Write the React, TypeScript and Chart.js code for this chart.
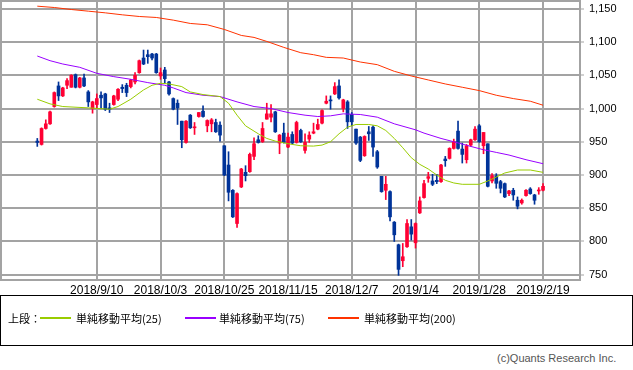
import React, { useEffect, useRef } from "react";
import { Chart, registerables } from "chart.js";

Chart.register(...registerables);

// ---- Candles (index 0 = 2018/8/21 ... index 119 = 2019/2/19) ----
const openV = [
  951, 946, 970, 977, 1003, 1034, 1019, 1035, 1032, 1051, 1032, 1046, 1025, 1000, 1006, 1020, 1022, 1001, 1006, 1014,
  1032, 1035, 1033, 1040, 1054, 1076, 1081, 1082, 1082, 1049, 1058, 1040, 1015, 1008, 981, 949, 990, 971, 988, 996,
  974, 977, 979, 975, 944, 915, 877, 827, 882, 904, 905, 928, 953, 950, 984, 987, 995, 948, 963, 942,
  961, 949, 967, 937, 954, 963, 969, 978, 1008, 1013, 1022, 1034, 1000, 1010, 991, 969, 957, 929, 965, 972,
  935, 898, 877, 875, 829, 795, 771, 792, 822, 798, 843, 866, 895, 891, 892, 890, 924, 925, 940, 966,
  939, 923, 945, 953, 974, 944, 947, 891, 898.5, 890, 887, 872, 877, 862, 858, 869, 879, 870, 876, 877,
];
const highV = [
  955, 971, 983, 996, 1025, 1040, 1032, 1045, 1051, 1052, 1047, 1052, 1027, 1011, 1022, 1025, 1023, 1008, 1020, 1030,
  1036, 1038, 1044, 1054, 1073, 1088, 1088, 1083, 1083, 1061, 1062, 1041, 1016, 1013, 981, 982, 991, 979, 994, 1004,
  983, 985, 984, 980, 944, 935, 878, 873, 910, 914, 933, 956, 959, 979, 1008, 1006, 996, 961, 978, 963,
  965, 981, 969, 962, 965, 978, 984, 998, 1019, 1019, 1039, 1043, 1014, 1012, 994, 969, 958, 959, 973, 974,
  937, 898, 898, 876, 830, 796, 797, 833, 833, 828, 867, 892, 904, 901, 901, 916, 928, 941, 954, 981,
  948, 946, 954, 973, 976, 964, 947, 902, 902, 892, 888, 877, 880, 867, 864, 878, 881, 871, 881, 887,
];
const lowV = [
  943, 945, 969, 976, 1002, 1012, 1018, 1030, 1032, 1031, 1031, 1033, 1003, 993, 1000, 1000, 997, 994, 1005, 1012,
  1024, 1018, 1031, 1037, 1053, 1066, 1068, 1073, 1053, 1044, 1038, 1020, 998, 976, 941, 948, 970, 961, 987, 987,
  965, 965, 964, 951, 899, 861, 836, 821, 881, 891, 904, 923, 948, 949, 984, 980, 964, 932, 948, 941,
  947, 948, 949, 933, 949, 962, 968, 977, 1007, 999, 1021, 1014, 995, 970, 974, 946, 920, 928, 952, 928,
  910, 874, 863, 831, 800, 749, 762, 791, 802, 790, 842, 865, 889, 884, 887, 889, 913, 924, 939, 939,
  918, 918, 943, 952, 949, 932, 882, 888, 880, 873, 866, 869, 862, 849, 856, 868, 871, 856, 871, 876,
];
const closeV = [
  949, 970, 977, 995, 1024, 1019, 1031, 1042, 1050, 1032, 1046, 1034, 1010, 1010, 1015, 1016, 999, 999, 1019, 1029,
  1030, 1024, 1043, 1050, 1072, 1067, 1078, 1076, 1054, 1054, 1045, 1022, 999, 1001, 953, 981, 971, 972.5, 994, 988,
  982, 983, 965, 960, 900, 874, 837, 872, 909, 899, 931, 947, 949, 970, 992, 992, 965, 960, 949, 957,
  948, 979, 950, 949, 960, 965, 976, 997, 1011, 1011.5, 1033, 1016, 1013, 980, 980, 948, 922, 958, 962, 942,
  912, 875, 886, 837, 810, 758, 777, 827, 811, 827, 861, 887, 897.5, 886, 890, 915, 921.5, 940, 950, 940,
  931, 944, 953, 969, 950, 964, 883, 899, 887.5, 880, 867, 876, 870, 853, 862, 877, 872, 862, 877.5, 883,
];

// ---- Moving averages (sampled at candle indices) ----
const ma25Idx = [0, 3, 6, 12, 17, 19, 22, 25, 27, 29, 31, 34, 36, 39, 43, 45, 47, 49, 52, 54, 56, 59, 62, 65, 67, 69, 71, 73, 75, 78, 80, 82, 84, 86, 88, 90, 92, 94, 96, 98, 100, 104, 106, 108, 110, 113, 116, 119];
const ma25Val = [1014, 1007, 1003, 1001, 999, 1003, 1014, 1028, 1035, 1038, 1037, 1033, 1025, 1021, 1018, 1008, 990, 974, 962, 955, 951, 947, 944, 943.5, 945, 950, 962, 972, 976, 976, 974, 967, 955, 941, 926, 916, 909, 900, 892, 888, 886, 886, 891, 897, 903, 907.5, 907.5, 904];

const ma75Idx = [0, 3, 6, 10, 14, 18, 22, 26, 30, 32, 35, 39, 43, 47, 51, 55, 59, 63, 66, 69, 72, 76, 80, 84, 89, 91, 95, 98, 102, 105, 108, 111, 115, 119];
const ma75Val = [1079, 1072, 1067, 1062, 1053, 1048, 1044, 1039, 1035, 1031, 1024, 1020, 1018, 1010, 1003, 1000, 994, 990, 988, 989, 992, 991, 987, 977, 968, 963, 955, 950, 943, 938, 934, 930, 923, 917];

const ma200Idx = [0, 4, 8, 12, 16, 20, 24, 28, 32, 36, 40, 44, 48, 51, 54, 58, 62, 65, 68, 72, 76, 80, 84, 88, 92, 96, 100, 104, 108, 112, 116, 119];
const ma200Val = [1154, 1152, 1149, 1146.5, 1144, 1141, 1138.5, 1137, 1133, 1128, 1126, 1119, 1110, 1107, 1101, 1092, 1084, 1081, 1077, 1076, 1070, 1066, 1056, 1049, 1043, 1037, 1032, 1027, 1020, 1015, 1011, 1005];

// ---- Axis ticks ----
const xTickIndex = [14, 29, 44, 59, 74, 89, 104, 119];
const xTickLabels = ["2018/9/10", "2018/10/3", "2018/10/25", "2018/11/15", "2018/12/7", "2019/1/4", "2019/1/28", "2019/2/19"];
const yTicks = [750, 800, 850, 900, 950, 1000, 1050, 1100, 1150];

const UP = "#ff0033";
const DOWN = "#003399";
const GRID = "#a3a3a3";
const C25 = "#99cc00";
const C75 = "#9900ff";
const C200 = "#ff3300";

const framePlugin = {
  id: "frame",
  beforeDatasetsDraw(chart: any) {
    const { ctx, chartArea: a } = chart;
    ctx.save();
    ctx.strokeStyle = GRID;
    ctx.lineWidth = 2;
    ctx.strokeRect(a.left, a.top, a.right - a.left, a.bottom - a.top);
    ctx.restore();
  },
};

function CandleChart() {
  const ref = useRef<HTMLCanvasElement | null>(null);
  useEffect(() => {
    if (!ref.current) return;
    const colors = openV.map((o, i) => (closeV[i] >= o ? UP : DOWN));
    const line = (idx: number[], val: number[], color: string, label: string) => ({
      type: "line" as const,
      label,
      data: idx.map((x, k) => ({ x, y: val[k] })),
      borderColor: color,
      borderWidth: 1,
      pointRadius: 0,
      tension: 0,
      fill: false,
      order: 0,
    });
    const chart = new Chart(ref.current, {
      type: "bar",
      data: {
        datasets: [
          line(ma25Idx, ma25Val, C25, "単純移動平均(25)"),
          line(ma75Idx, ma75Val, C75, "単純移動平均(75)"),
          line(ma200Idx, ma200Val, C200, "単純移動平均(200)"),
          {
            type: "bar",
            label: "body",
            data: openV.map((o, i) => ({ x: i, y: [o, closeV[i]] })),
            backgroundColor: colors,
            borderWidth: 0,
            barThickness: 3,
            minBarLength: 1,
            grouped: false,
            order: 1,
          } as any,
          {
            type: "bar",
            label: "wick",
            data: highV.map((h, i) => ({ x: i, y: [lowV[i], h] })),
            backgroundColor: colors,
            borderWidth: 0,
            barThickness: 1,
            grouped: false,
            order: 2,
          } as any,
        ],
      },
      options: {
        animation: false,
        responsive: false,
        maintainAspectRatio: false,
        devicePixelRatio: 1,
        layout: { padding: { left: 1, top: 1, right: 0, bottom: 0 } },
        plugins: { legend: { display: false }, tooltip: { enabled: false } },
        scales: {
          x: {
            type: "linear",
            min: -8.54,
            max: 127.7,
            bounds: "data",
            offset: false,
            grid: { color: GRID, lineWidth: 2, drawTicks: false, offset: false },
            border: { display: false },
            afterBuildTicks: (s: any) => {
              s.ticks = xTickIndex.map((v) => ({ value: v }));
            },
            afterFit: (s: any) => {
              s.height = 17;
              s.paddingLeft = 0;
              s.paddingRight = 0;
            },
            ticks: {
              autoSkip: false,
              maxRotation: 0,
              minRotation: 0,
              padding: 3,
              color: "#000",
              font: { family: "'Liberation Sans', Arial, sans-serif", size: 12 },
              callback: (v: any) => {
                const k = xTickIndex.indexOf(Number(v));
                return k >= 0 ? xTickLabels[k] : "";
              },
            },
          },
          y: {
            position: "right",
            min: 742,
            max: 1161.8,
            bounds: "data",
            grid: { color: GRID, lineWidth: 2, tickLength: 4, tickWidth: 1, tickColor: GRID },
            border: { display: false },
            afterBuildTicks: (s: any) => {
              s.ticks = yTicks.map((v) => ({ value: v }));
            },
            afterFit: (s: any) => {
              s.width = 53;
              s.paddingTop = 0;
              s.paddingBottom = 0;
            },
            ticks: {
              padding: 5,
              color: "#000",
              font: { family: "'Liberation Sans', Arial, sans-serif", size: 11 },
              callback: (v: any) => Number(v).toLocaleString("en-US"),
            },
          },
        },
      } as any,
      plugins: [framePlugin],
    });
    return () => chart.destroy();
  }, []);
  return <canvas ref={ref} width={633} height={297} style={{ display: "block", width: 633, height: 297 }} />;
}

const legendItems = [
  { color: C25, label: "単純移動平均(25)", lineX: 39, textX: 75 },
  { color: C75, label: "単純移動平均(75)", lineX: 184, textX: 218 },
  { color: C200, label: "単純移動平均(200)", lineX: 327, textX: 363 },
];

export default function App() {
  return (
    <div style={{ position: "absolute", left: 0, top: 0, width: 633, height: 370, background: "#fff" }}>
      <CandleChart />
      <div
        style={{
          position: "absolute",
          left: 0,
          top: 295,
          width: 631,
          height: 49,
          border: "1px solid #000",
          fontFamily: "'Noto Sans CJK JP', sans-serif",
          fontSize: 11,
          color: "#000",
        }}
      >
        <span style={{ position: "absolute", left: 7, top: 15, lineHeight: "14px", whiteSpace: "nowrap" }}>上段：</span>
        {legendItems.map((it) => (
          <React.Fragment key={it.label}>
            <div style={{ position: "absolute", left: it.lineX, top: 21, width: 31, height: 2, background: it.color }} />
            <span style={{ position: "absolute", left: it.textX, top: 15, lineHeight: "14px", whiteSpace: "nowrap" }}>
              {it.label}
            </span>
          </React.Fragment>
        ))}
      </div>
      <div
        style={{
          position: "absolute",
          left: 497,
          top: 351,
          fontFamily: "'Liberation Sans', Arial, sans-serif",
          fontSize: 11,
          lineHeight: "14px",
          color: "#555",
          whiteSpace: "nowrap",
        }}
      >
        (c)Quants Research Inc.
      </div>
    </div>
  );
}
